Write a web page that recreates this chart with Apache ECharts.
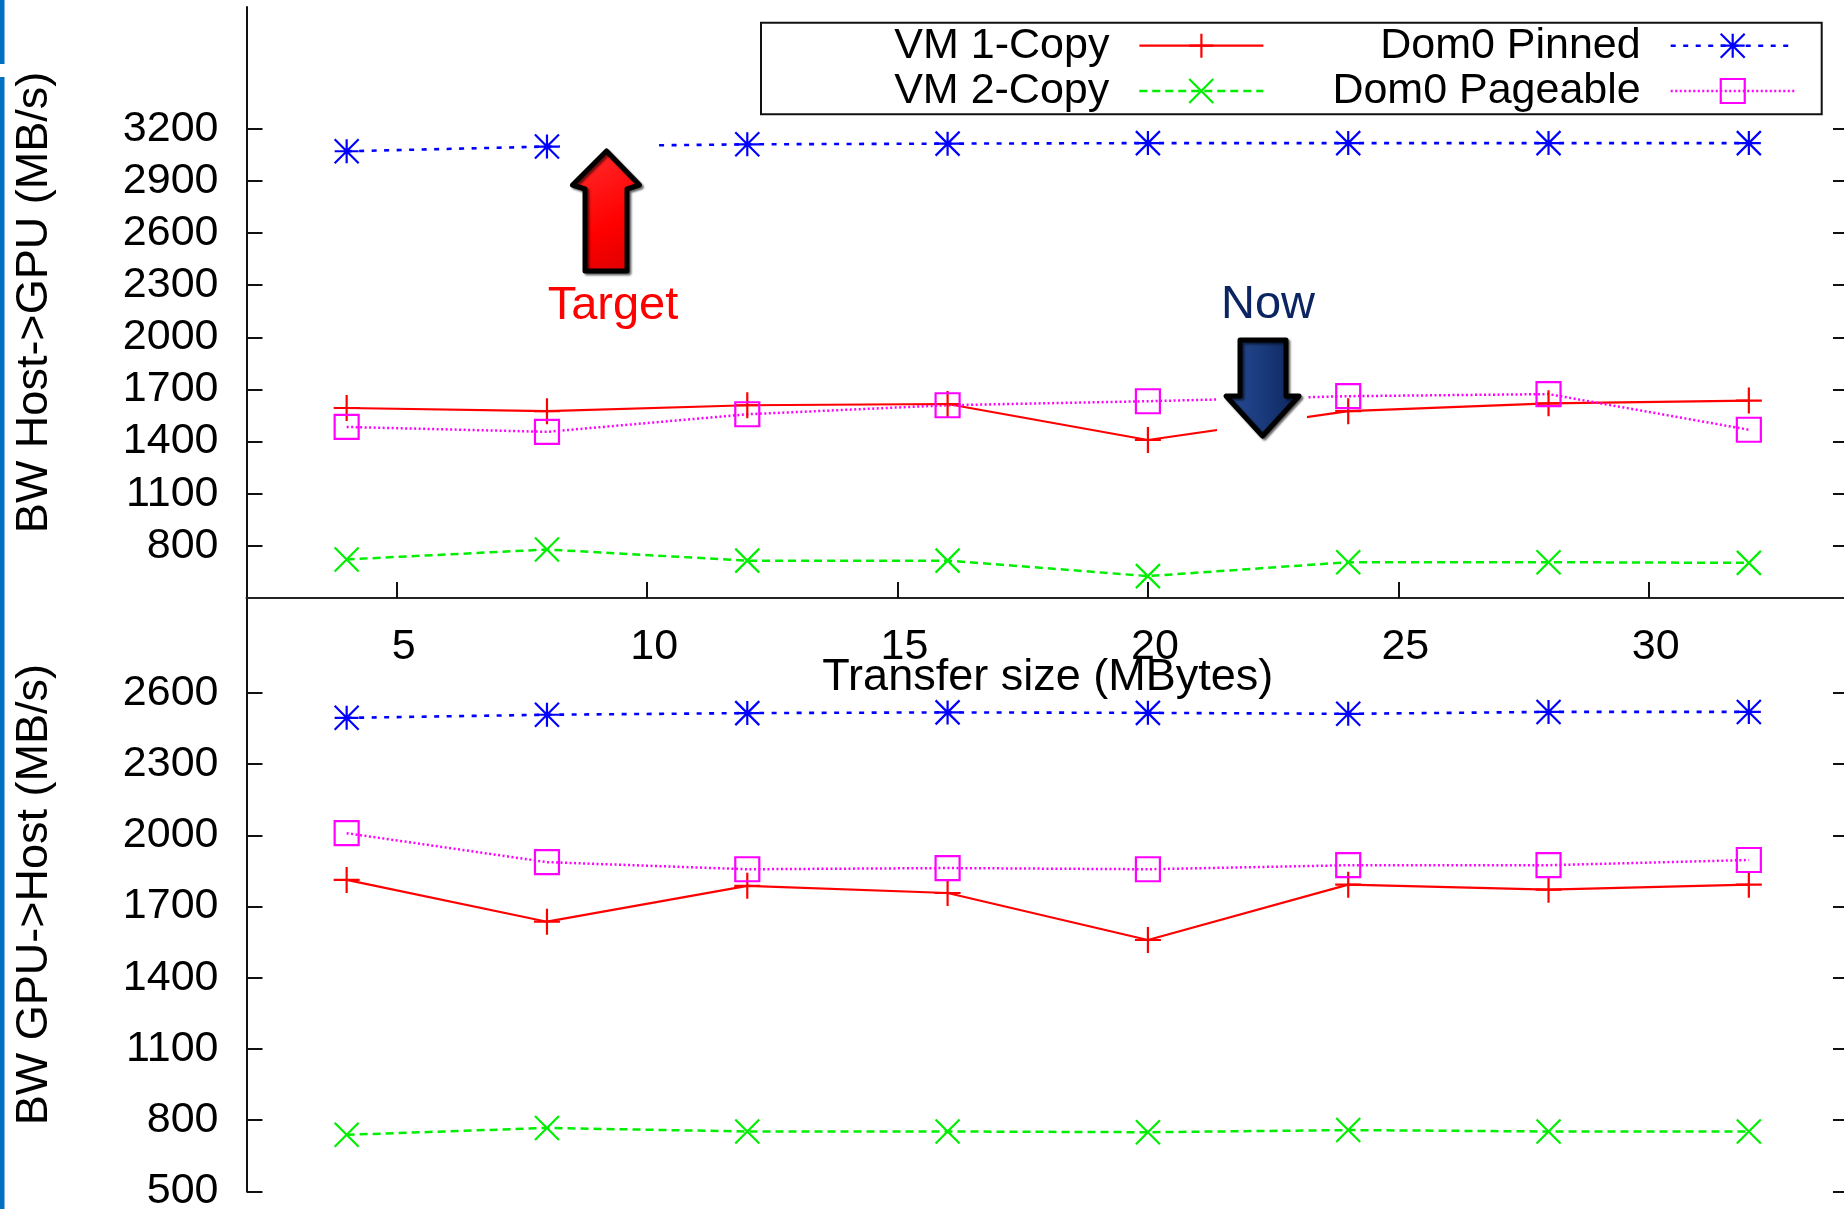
<!DOCTYPE html>
<html>
<head>
<meta charset="utf-8">
<script src="https://cdn.jsdelivr.net/npm/echarts@6/dist/echarts.min.js"></script>
<style>
  html, body { margin: 0; padding: 0; background: #ffffff; }
  #chart { width: 1844px; height: 1209px; }
</style>
</head>
<body>
<div id="chart"></div>
<script>
// Transfer sizes (MBytes) on the shared x axis
const transferSizes = [4, 8, 12, 16, 20, 24, 28, 32];
const xTicks = [5, 10, 15, 20, 25, 30];

// Host -> GPU bandwidth (MB/s)
const h2dTicks = [800, 1100, 1400, 1700, 2000, 2300, 2600, 2900, 3200];
const h2dVm1Copy = [1593, 1575, 1609, 1616, 1409, 1575, 1620, 1636];
const h2dVm2Copy = [722, 779, 715, 715, 626, 706, 706, 702];
const h2dDom0Pinned = [3070, 3097, 3110, 3114, 3117, 3117, 3117, 3117];
const h2dDom0Pageable = [1484, 1456, 1557, 1609, 1632, 1661, 1673, 1468];

// GPU -> Host bandwidth (MB/s)
const d2hTicks = [500, 800, 1100, 1400, 1700, 2000, 2300, 2600];
const d2hVm1Copy = [1812, 1636, 1787, 1757, 1559, 1792, 1771, 1792];
const d2hVm2Copy = [738, 767, 752, 752, 749, 758, 752, 752];
const d2hDom0Pinned = [2495, 2508, 2515, 2518, 2516, 2512, 2520, 2520];
const d2hDom0Pageable = [2009, 1887, 1857, 1862, 1857, 1874, 1874, 1896];

const FONT = '"Liberation Sans", Arial, Helvetica, sans-serif';
const INK = '#111111';
const plain = (v) => String(v);

// gnuplot-like point and line styles for each configuration
const styles = {
  'VM 1-Copy':     { color: '#ff0000', dash: 'solid',  width: 2.2, symbol: 'path://M0,-12L0,12M-12,0L12,0', size: 26 },
  'VM 2-Copy':     { color: '#00ee00', dash: [8, 5],   width: 2.5, symbol: 'path://M-12,-12L12,12M-12,12L12,-12', size: 24 },
  'Dom0 Pinned':   { color: '#0000ff', dash: [5, 7.5], width: 2.6, symbol: 'path://M0,-12L0,12M-12,0L12,0M-12,-12L12,12M-12,12L12,-12', size: 24 },
  'Dom0 Pageable': { color: '#ff00ff', dash: [2, 2.5], width: 2.5, symbol: 'path://M-12,-12L12,-12L12,12L-12,12Z', size: 24 }
};

function pairs(values) {
  return transferSizes.map((x, i) => [x, values[i]]);
}

function lineSeries(name, values, panel) {
  const s = styles[name];
  return {
    type: 'line',
    name: name,
    xAxisIndex: panel,
    yAxisIndex: panel * 2,
    data: pairs(values),
    symbol: s.symbol,
    symbolSize: s.size,
    showSymbol: true,
    showAllSymbol: true,
    itemStyle: { color: 'none', borderColor: s.color, borderWidth: 2.2 },
    lineStyle: { color: s.color, width: s.width, type: s.dash },
    emphasis: { disabled: true },
    silent: true
  };
}

function legendItem(name, right, top, gap) {
  const s = styles[name];
  return {
    data: [name],
    right: right,
    top: top,
    orient: 'horizontal',
    align: 'right',
    padding: 0,
    itemWidth: 124,
    itemHeight: 30,
    selectedMode: false,
    textStyle: { fontFamily: FONT, fontSize: 43, color: '#000', lineHeight: 48, padding: [0, gap, 0, 0] },
    itemStyle: { color: 'none', borderColor: s.color, borderWidth: 2.2 },
    lineStyle: { color: s.color, width: s.width, type: s.dash },
    z: 6
  };
}

function leftAxis(panel, min, max, ticks, title) {
  return {
    gridIndex: panel, type: 'value', position: 'left', min: min, max: max,
    axisLine: { show: true, onZero: false, lineStyle: { color: INK, width: 2 } },
    axisTick: { show: true, inside: true, length: 16, customValues: ticks, lineStyle: { color: INK, width: 2 } },
    axisLabel: { show: true, customValues: ticks, formatter: plain, margin: 28, fontSize: 43, fontFamily: FONT, color: '#000' },
    splitLine: { show: false },
    name: title, nameLocation: 'middle', nameRotate: 90, nameGap: 189, nameMoveOverlap: false,
    nameTextStyle: { fontSize: 45, fontFamily: FONT, color: '#000' }
  };
}

function rightAxis(panel, min, max, ticks) {
  return {
    gridIndex: panel, type: 'value', position: 'right', min: min, max: max,
    axisLine: { show: true, onZero: false, lineStyle: { color: INK, width: 2 } },
    axisTick: { show: true, inside: true, length: 16, customValues: ticks, lineStyle: { color: INK, width: 2 } },
    axisLabel: { show: false },
    splitLine: { show: false }
  };
}

const chart = echarts.init(document.getElementById('chart'), null, { renderer: 'canvas' });

const option = {
  animation: false,
  backgroundColor: '#ffffff',
  textStyle: { fontFamily: FONT },
  grid: [
    { left: 246.5, right: -5, top: 7, height: 591, outerBoundsMode: 'none' },
    { left: 246.5, right: -5, top: 598, height: 593.3, outerBoundsMode: 'none' }
  ],
  xAxis: [
    {
      gridIndex: 0, type: 'value', position: 'bottom', min: 2, max: 34,
      axisLine: { show: true, onZero: false, lineStyle: { color: '#222', width: 2 } },
      axisTick: { show: true, inside: true, length: 16, customValues: xTicks, lineStyle: { color: INK, width: 2 } },
      axisLabel: { show: true, customValues: xTicks, formatter: plain, margin: 28, fontSize: 43, fontFamily: FONT, color: '#000', padding: [0, 0, 0, 14] },
      splitLine: { show: false },
      name: 'Transfer size (MBytes)', nameLocation: 'middle', nameGap: 57, nameMoveOverlap: false,
      nameTextStyle: { fontSize: 45, fontFamily: FONT, color: '#000' }
    },
    {
      gridIndex: 1, type: 'value', position: 'top', min: 2, max: 34,
      axisLine: { show: false }, axisTick: { show: false }, axisLabel: { show: false }, splitLine: { show: false }
    }
  ],
  yAxis: [
    leftAxis(0, 500, 3900, h2dTicks, 'BW Host->GPU (MB/s)'),
    rightAxis(0, 500, 3900, h2dTicks),
    leftAxis(1, 500, 3000, d2hTicks, 'BW GPU->Host (MB/s)'),
    rightAxis(1, 500, 3000, d2hTicks)
  ],
  legend: [
    legendItem('VM 1-Copy', 579.5, 21.7, 25),
    legendItem('VM 2-Copy', 579.5, 67, 25),
    legendItem('Dom0 Pinned', 48, 21.7, 25),
    legendItem('Dom0 Pageable', 48, 67, 25)
  ],
  series: [
    lineSeries('VM 1-Copy', h2dVm1Copy, 0),
    lineSeries('VM 2-Copy', h2dVm2Copy, 0),
    lineSeries('Dom0 Pinned', h2dDom0Pinned, 0),
    lineSeries('Dom0 Pageable', h2dDom0Pageable, 0),
    lineSeries('VM 1-Copy', d2hVm1Copy, 1),
    lineSeries('VM 2-Copy', d2hVm2Copy, 1),
    lineSeries('Dom0 Pinned', d2hDom0Pinned, 1),
    lineSeries('Dom0 Pageable', d2hDom0Pageable, 1)
  ],
  graphic: [
    // slide accent bar on the left edge
    { type: 'rect', shape: { x: 0, y: 0, width: 4.5, height: 64 }, style: { fill: '#0070c0' }, z: 20, silent: true },
    { type: 'rect', shape: { x: 0, y: 77, width: 4.5, height: 1132 }, style: { fill: '#0070c0' }, z: 20, silent: true },
    // key frame
    { type: 'rect', shape: { x: 761, y: 22.7, width: 1060.7, height: 91.6 }, style: { fill: '#ffffff', stroke: INK, lineWidth: 2 }, z: 3, silent: true },
    // "Target" arrow callout
    { type: 'rect', shape: { x: 560, y: 136, width: 92, height: 146 }, style: { fill: '#ffffff' }, z: 10, silent: true },
    {
      type: 'polygon', z: 11, silent: true,
      shape: { points: [[606.5, 151], [639.5, 185], [627, 189], [627, 271], [585, 271], [585, 189], [572.5, 185]] },
      style: {
        fill: new echarts.graphic.LinearGradient(0, 0, 1, 1, [
          { offset: 0, color: '#ff3030' }, { offset: 0.6, color: '#ff0000' }, { offset: 1, color: '#d80000' }
        ]),
        stroke: '#000000', lineWidth: 5, lineJoin: 'round',
        shadowColor: 'rgba(0,0,0,0.55)', shadowBlur: 2, shadowOffsetX: 2, shadowOffsetY: 2
      }
    },
    {
      type: 'text', z: 11, silent: true, x: 613, y: 306,
      style: { text: 'Target', fill: '#ff0000', font: '47px ' + FONT, align: 'center', verticalAlign: 'middle' }
    },
    // "Now" arrow callout
    { type: 'rect', shape: { x: 1217, y: 330, width: 90, height: 116 }, style: { fill: '#ffffff' }, z: 10, silent: true },
    {
      type: 'polygon', z: 11, silent: true,
      shape: { points: [[1240, 340], [1286, 340], [1286, 396], [1299, 396], [1262.5, 436], [1226, 396], [1240, 396]] },
      style: {
        fill: new echarts.graphic.LinearGradient(0, 0, 1, 0, [
          { offset: 0, color: '#2a4c94' }, { offset: 0.5, color: '#1a3a7c' }, { offset: 1, color: '#0c2458' }
        ]),
        stroke: '#000000', lineWidth: 5, lineJoin: 'round',
        shadowColor: 'rgba(0,0,0,0.55)', shadowBlur: 2, shadowOffsetX: 2, shadowOffsetY: 2
      }
    },
    {
      type: 'text', z: 11, silent: true, x: 1268, y: 305,
      style: { text: 'Now', fill: '#0c2461', font: '47px ' + FONT, align: 'center', verticalAlign: 'middle' }
    }
  ]
};

chart.setOption(option);
</script>
</body>
</html>
